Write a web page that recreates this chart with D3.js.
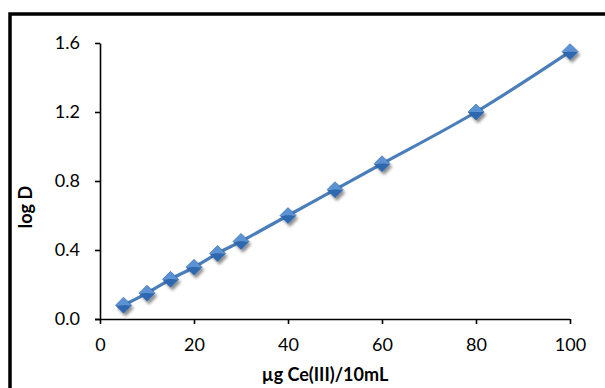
<!DOCTYPE html>
<html><head><meta charset="utf-8">
<script src="https://cdn.jsdelivr.net/npm/d3@7"></script>
<style>html,body{margin:0;padding:0;background:#fff;}svg{display:block;}</style>
</head><body>
<svg id="c" width="605" height="388"></svg>
<script>
const xValues = [5, 10, 15, 20, 25, 30, 40, 50, 60, 80, 100];
const yValues = [0.08, 0.15, 0.23, 0.30, 0.38, 0.45, 0.60, 0.75, 0.90, 1.20, 1.55];
const xTicks = [0, 20, 40, 60, 80, 100];
const yTicks = [0.0, 0.4, 0.8, 1.2, 1.6];
const xTitle = "µg Ce(III)/10mL";
const yTitle = "log D";

const svg = d3.select("#c");
const font = "Lato, 'Open Sans', sans-serif";

// frame
svg.append("path").attr("d","M10,400 V14 H620").attr("fill","none").attr("stroke","#000").attr("stroke-width",3.5);

const x = d3.scaleLinear().domain([0,100]).range([100,570]);
const y = d3.scaleLinear().domain([0,1.6]).range([319,43]);

const defs = svg.append("defs");
const f = defs.append("filter").attr("id","sh").attr("x","-50%").attr("y","-50%").attr("width","200%").attr("height","200%");
f.append("feGaussianBlur").attr("in","SourceAlpha").attr("stdDeviation",1.8);
f.append("feOffset").attr("dx",1.5).attr("dy",2.5).attr("result","b");
f.append("feComponentTransfer").append("feFuncA").attr("type","linear").attr("slope",0.45);
const m = f.append("feMerge"); m.append("feMergeNode"); m.append("feMergeNode").attr("in","SourceGraphic");

const xa = svg.append("g").attr("transform","translate(0,319)")
  .call(d3.axisBottom(x).tickValues(xTicks).tickFormat(d3.format("d")).tickSizeInner(5).tickSizeOuter(0));
const ya = svg.append("g").attr("transform","translate(100,0)")
  .call(d3.axisLeft(y).tickValues(yTicks).tickFormat(d3.format(".1f")).tickSizeInner(5).tickSizeOuter(0));
[xa,ya].forEach(a=>{
  a.select(".domain").attr("stroke","#000").attr("stroke-width",1.6);
  a.selectAll(".tick line").attr("stroke","#000").attr("stroke-width",1.6);
  a.selectAll("text").attr("font-family",font).attr("font-size",18).attr("fill","#000");
});
xa.select(".domain").attr("d","M95,0.5H570");
xa.selectAll("text").attr("y",19);
ya.selectAll("text").attr("x",-20);

const line = d3.line().x((d,i)=>x(xValues[i])).y(d=>y(d)).curve(d3.curveCatmullRom.alpha(0.5));
svg.append("path").datum(yValues).attr("d",line).attr("fill","none").attr("stroke","#4a7ebb").attr("stroke-width",3.2);

const s = 8;
const g = svg.append("g").selectAll("g").data(yValues).join("g")
  .attr("transform",(d,i)=>`translate(${x(xValues[i])},${y(d)})`).attr("filter","url(#sh)");
g.append("path").attr("d",`M0,${-s}L${s},0L${-s},0Z`).attr("fill","#5a92d4");
g.append("path").attr("d",`M${-s},0L${s},0L0,${s}Z`).attr("fill","#2f67b0");
g.append("path").attr("d",`M0,${-s}L${s},0L0,${s}L${-s},0Z`).attr("fill","none").attr("stroke","#2e64a8").attr("stroke-width",0.6);

svg.append("text").attr("x",325).attr("y",381).attr("text-anchor","middle")
  .attr("font-family",font).attr("font-weight","bold").attr("font-size",18).text(xTitle);
svg.append("text").attr("transform","translate(32,207) rotate(-90)").attr("text-anchor","middle")
  .attr("font-family",font).attr("font-weight","bold").attr("font-size",18).text(yTitle);
</script>
</body></html>
